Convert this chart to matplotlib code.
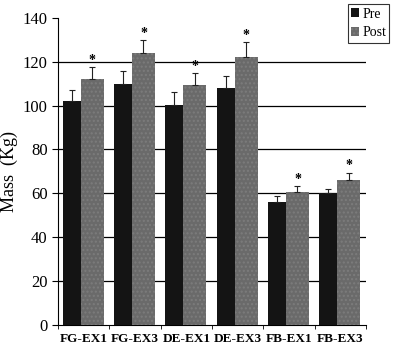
import numpy as np
import matplotlib.pyplot as plt

groups = ["FG-EX1", "FG-EX3", "DE-EX1", "DE-EX3", "FB-EX1", "FB-EX3"]
pre = [102, 110, 100.5, 108, 56, 60]
post = [112, 124, 109.5, 122, 60.5, 66]
pre_err = [5, 6, 5.5, 5.5, 3, 2]
post_err = [5.5, 6, 5.5, 7, 3, 3.5]

plt.rcParams['font.family'] = ['Liberation Serif', 'DejaVu Serif']

fig = plt.figure(figsize=(4, 3.52), dpi=100)
ax = fig.add_axes([0.145, 0.077, 0.77, 0.872])

x = np.arange(len(groups))
wpre, wpost = 0.35, 0.45
ekw = dict(ecolor='#222', elinewidth=0.8, capsize=2, capthick=0.8)
ax.bar(x - 0.41, pre, wpre, align='edge', color='#141414', label='Pre', zorder=3,
       yerr=[np.zeros(len(pre)), pre_err], error_kw=ekw)
ax.bar(x - 0.06, post, wpost, align='edge', color='#6a6a6a', hatch='....', edgecolor='#7c7c7c',
       linewidth=0, label='Post', zorder=3, yerr=[np.zeros(len(post)), post_err], error_kw=ekw)
for xi, p, e in zip(x, post, post_err):
    ax.text(xi - 0.06 + wpost/2, p + e + 3, '*', ha='center', va='center', fontsize=10, fontweight='bold')

ax.set_xlim(-0.5, len(groups) - 0.5)
ax.set_ylim(0, 140)
ax.set_yticks(range(0, 141, 20))
for yv in range(20, 140, 20):
    ax.axhline(yv, color='black', linewidth=0.9, zorder=0)
ax.set_xticks(x)
ax.set_xticklabels(groups, fontsize=9.5, fontweight='bold')
ax.set_xticks(np.arange(len(groups) + 1) - 0.5, minor=True)
ax.tick_params(axis='x', which='major', length=0, pad=6)
ax.tick_params(axis='x', which='minor', length=3, direction='out')
ax.tick_params(axis='y', labelsize=12, length=4)
ax.set_ylabel('Mass  (Kg)', fontsize=13, labelpad=3)
for s in ['top', 'right']:
    ax.spines[s].set_visible(False)

leg = ax.legend(loc='upper left', bbox_to_anchor=(0.94, 1.045), fontsize=10, frameon=True,
                fancybox=False, edgecolor='black', handlelength=0.6, handleheight=0.6,
                handletextpad=0.2, borderpad=0.25, labelspacing=0.4, borderaxespad=0)
leg.get_frame().set_linewidth(0.8)

fig.savefig('out.png')
